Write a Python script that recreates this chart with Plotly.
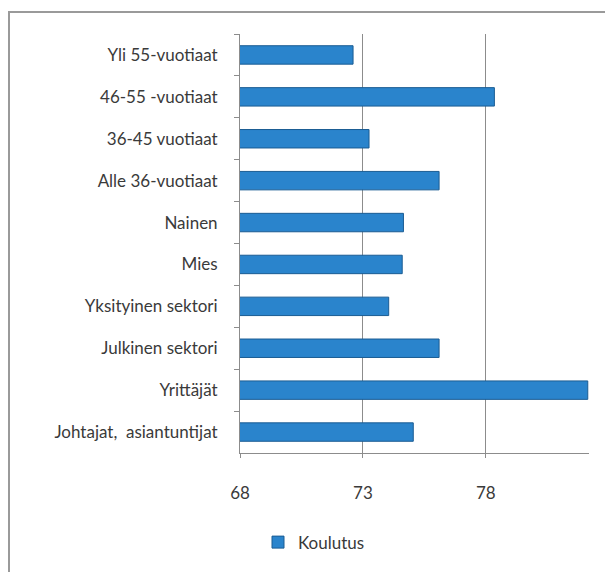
import plotly.graph_objects as go

# Categories listed top to bottom as in the chart
groups = [
    "Yli 55-vuotiaat",
    "46-55 -vuotiaat",
    "36-45 vuotiaat",
    "Alle 36-vuotiaat",
    "Nainen",
    "Mies",
    "Yksityinen sektori",
    "Julkinen sektori",
    "Yrittäjät",
    "Johtajat,  asiantuntijat",
]
koulutus = [72.6, 78.35, 73.25, 76.1, 74.65, 74.6, 74.05, 76.1, 82.15, 75.05]
x_ticks = [68, 73, 78]

# page body has an 8px margin, so the figure is shrunk and shifted to fit
OFF = 8
W, H = 613 - OFF, 572 - OFF
L, R, T, B = 240 - OFF, 24, 34 - OFF, 117
pw, ph = W - L - R, H - T - B


def px_x(x):
    return (x - OFF - L) / pw


def px_y(y):
    return (H - B - (y - OFF)) / ph


fig = go.Figure(
    go.Bar(
        x=koulutus,
        y=groups,
        orientation="h",
        name="Koulutus",
        marker=dict(color="#2A84CC", line=dict(color="#1A5C93", width=1)),
        showlegend=True,
    )
)

fig.update_layout(
    width=W,
    height=H,
    margin=dict(l=L, r=R, t=T, b=B),
    paper_bgcolor="white",
    plot_bgcolor="white",
    font=dict(family="Lato, Open Sans, sans-serif", size=17, color="#3a3a3a"),
    bargap=0.56,
    legend=dict(
        orientation="h",
        x=px_x(258),
        xanchor="left",
        y=px_y(545),
        yanchor="middle",
        itemwidth=30,
        font=dict(size=17),
    ),
    shapes=[
        dict(
            type="rect",
            xref="paper",
            yref="paper",
            x0=px_x(9),
            x1=px_x(900),
            y0=px_y(900),
            y1=px_y(12),
            line=dict(color="#9a9a9a", width=2),
            layer="below",
        )
    ],
)

fig.update_xaxes(
    range=[68, 82.2],
    tickvals=x_ticks,
    showgrid=True,
    gridcolor="#8c8c8c",
    gridwidth=1,
    showline=True,
    linecolor="#8c8c8c",
    ticks="outside",
    ticklen=4,
    tickcolor="#8c8c8c",
    ticklabelstandoff=21,
    zeroline=False,
    automargin=False,
)
fig.update_yaxes(
    autorange="reversed",
    showline=True,
    linecolor="#8c8c8c",
    ticks="outside",
    tickson="boundaries",
    ticklen=5,
    tickcolor="#8c8c8c",
    ticklabelstandoff=18,
    showgrid=False,
    automargin=False,
)

fig.write_html("out.html")
